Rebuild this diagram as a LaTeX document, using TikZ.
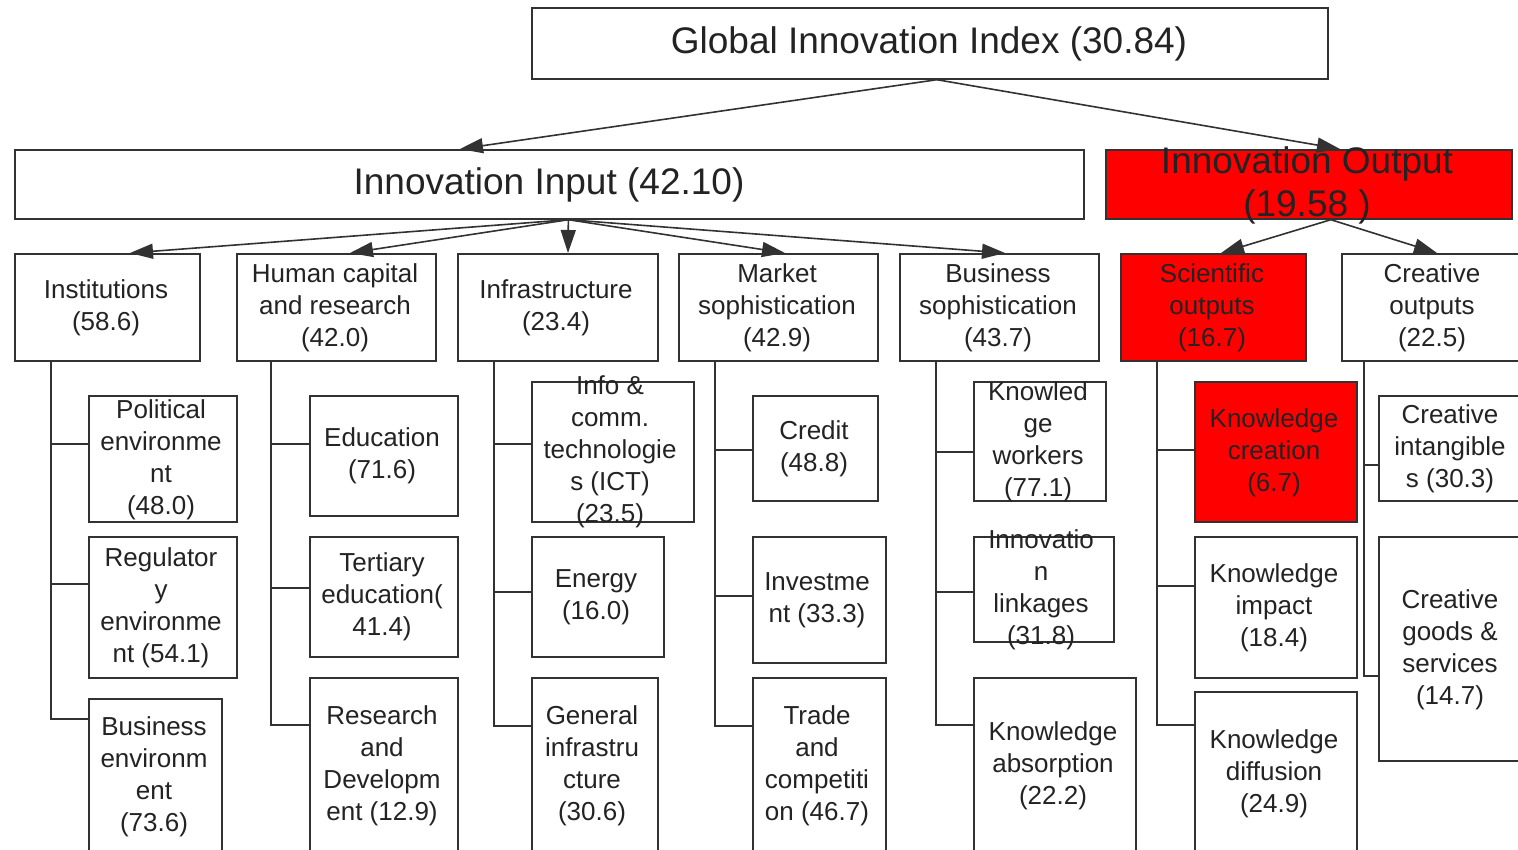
\documentclass[tikz,border=0pt]{standalone}
\usepackage{fontspec}
\setmainfont{Liberation Sans}
\usetikzlibrary{arrows.meta,calc}
\definecolor{edgecol}{RGB}{50,50,50}
\definecolor{txtcol}{RGB}{35,35,35}
\definecolor{hired}{RGB}{255,0,0}
\begin{document}
\begin{tikzpicture}[x=1pt,y=-1pt,
 box/.style={draw=edgecol,line width=1.7pt,inner sep=0pt,anchor=north west,fill=white},
 redbox/.style={box,fill=hired},
 big/.style={align=center,inner sep=0pt,yshift=-3pt,text=txtcol,font=\fontsize{37}{43}\selectfont},
 txt/.style={align=center,inner sep=0pt,yshift=-3pt,text=txtcol,font=\fontsize{26}{32}\selectfont},
 conn/.style={draw=edgecol,line width=1.6pt},
 arr/.style={conn,-{Triangle[length=23pt,width=15pt]}}]
\useasboundingbox (0,0) rectangle (1518,849);
\clip (0,0) rectangle (1518,849);
% level 0 and 1
\node[box,minimum width=796pt,minimum height=71pt] (gii) at (531,7) {};
\node[box,minimum width=1069pt,minimum height=69pt] (in) at (14,149) {};
\node[redbox,minimum width=406pt,minimum height=69pt] (out) at (1105,149) {};
% level 2
\node[box,minimum width=185pt,minimum height=107pt] (inst) at (14,253) {};
\node[box,minimum width=199pt,minimum height=107pt] (hum) at (236,253) {};
\node[box,minimum width=200pt,minimum height=107pt] (infra) at (457,253) {};
\node[box,minimum width=199pt,minimum height=107pt] (mkt) at (678,253) {};
\node[box,minimum width=199pt,minimum height=107pt] (bus) at (899,253) {};
\node[redbox,minimum width=185pt,minimum height=107pt] (sci) at (1120,253) {};
\node[box,minimum width=182pt,minimum height=107pt] (cre) at (1341,253) {};
% level 3
\node[box,minimum width=148pt,minimum height=126pt] (pol) at (88,395) {};
\node[box,minimum width=148pt,minimum height=141pt] (reg) at (88,536) {};
\node[box,minimum width=133pt,minimum height=154pt] (benv) at (88,698) {};
\node[box,minimum width=148pt,minimum height=120pt] (edu) at (309,395) {};
\node[box,minimum width=148pt,minimum height=120pt] (ter) at (309,536) {};
\node[box,minimum width=148pt,minimum height=175pt] (rd) at (309,677) {};
\node[box,minimum width=162pt,minimum height=140pt] (ict) at (531,381) {};
\node[box,minimum width=132pt,minimum height=120pt] (ene) at (531,536) {};
\node[box,minimum width=126pt,minimum height=175pt] (gen) at (531,677) {};
\node[box,minimum width=125pt,minimum height=105pt] (cred) at (752,395) {};
\node[box,minimum width=133pt,minimum height=126pt] (inv) at (752,536) {};
\node[box,minimum width=133pt,minimum height=175pt] (trd) at (752,677) {};
\node[box,minimum width=132pt,minimum height=119pt] (kw) at (973,381) {};
\node[box,minimum width=140pt,minimum height=105pt] (il) at (973,536) {};
\node[box,minimum width=162pt,minimum height=175pt] (ka) at (973,677) {};
\node[redbox,minimum width=162pt,minimum height=140pt] (kc) at (1194,381) {};
\node[box,minimum width=162pt,minimum height=141pt] (ki) at (1194,536) {};
\node[box,minimum width=162pt,minimum height=161pt] (kd) at (1194,691) {};
\node[box,minimum width=145pt,minimum height=105pt] (ci) at (1378,395) {};
\node[box,minimum width=145pt,minimum height=224pt] (cg) at (1378,536) {};
% arrows
\coordinate (giib) at ($(gii.south)+(7,0)$);
\draw[arr] (giib) -- ($(in.north west)+(446,0)$);
\draw[arr] (giib) -- ($(out.north west)+(235,0)$);
\coordinate (inb) at ($(in.south)+(19,0)$);
\draw[arr] (inb) -- ($(inst.north west)+(116,0)$);
\draw[arr] (inb) -- ($(hum.north west)+(114,0)$);
\draw[arr] (inb) -- ($(infra.north west)+(111,0)$);
\draw[arr] (inb) -- ($(mkt.north west)+(107,0)$);
\draw[arr] (inb) -- ($(bus.north west)+(106,0)$);
\coordinate (outb) at ($(out.south)+(22,0)$);
\draw[arr] (outb) -- ($(sci.north west)+(101,0)$);
\draw[arr] (outb) -- ($(cre.north west)+(96,0)$);
% trunks
\coordinate (tinst) at ($(inst.south west)+(37,0)$);
\draw[conn] (tinst) |- ($(pol.north west)+(0,49)$) (tinst) |- ($(reg.north west)+(0,48)$) (tinst) |- ($(benv.north west)+(0,21)$);
\coordinate (thum) at ($(hum.south west)+(35,0)$);
\draw[conn] (thum) |- ($(edu.north west)+(0,49)$) (thum) |- ($(ter.north west)+(0,52)$) (thum) |- ($(rd.north west)+(0,48)$);
\coordinate (tinfra) at ($(infra.south west)+(37,0)$);
\draw[conn] (tinfra) |- ($(ict.north west)+(0,63)$) (tinfra) |- ($(ene.north west)+(0,56)$) (tinfra) |- ($(gen.north west)+(0,49)$);
\coordinate (tmkt) at ($(mkt.south west)+(37,0)$);
\draw[conn] (tmkt) |- ($(cred.north west)+(0,55)$) (tmkt) |- ($(inv.north west)+(0,60)$) (tmkt) |- ($(trd.north west)+(0,49)$);
\coordinate (tbus) at ($(bus.south west)+(37,0)$);
\draw[conn] (tbus) |- ($(kw.north west)+(0,71)$) (tbus) |- ($(il.north west)+(0,56)$) (tbus) |- ($(ka.north west)+(0,48)$);
\coordinate (tsci) at ($(sci.south west)+(37,0)$);
\draw[conn] (tsci) |- ($(kc.north west)+(0,69)$) (tsci) |- ($(ki.north west)+(0,50)$) (tsci) |- ($(kd.north west)+(0,34)$);
\coordinate (tcre) at ($(cre.south west)+(23,0)$);
\draw[conn] (tcre) |- ($(ci.north west)+(0,70)$) (tcre) |- ($(cg.north west)+(0,140)$);
% texts
\node[big] (t-gii) at (929,41) {Global Innovation Index (30.84)};
\node[big] (t-in) at (549,182) {Innovation Input (42.10)};
\node[big] (t-out) at (1307,182) {Innovation Output\\(19.58 )};
\node[txt] (t-inst) at (106,305) {Institutions\\(58.6)};
\node[txt] (t-hum) at (335,305) {Human capital\\and research\\(42.0)};
\node[txt] (t-infra) at (556,305) {Infrastructure\\(23.4)};
\node[txt] (t-mkt) at (777,305) {Market\\sophistication\\(42.9)};
\node[txt] (t-bus) at (998,305) {Business\\sophistication\\(43.7)};
\node[txt] (t-sci) at (1212,305) {Scientific\\outputs\\(16.7)};
\node[txt] (t-cre) at (1432,305) {Creative\\outputs\\(22.5)};
\node[txt] (t-pol) at (161,457) {Political\\environme\\nt\\(48.0)};
\node[txt] (t-reg) at (161,605) {Regulator\\y\\environme\\nt (54.1)};
\node[txt] (t-benv) at (154,774) {Business\\environm\\ent\\(73.6)};
\node[txt] (t-edu) at (382,453) {Education\\(71.6)};
\node[txt] (t-ter) at (382,594) {Tertiary\\education(\\41.4)};
\node[txt] (t-rd) at (382,763) {Research\\and\\Developm\\ent (12.9)};
\node[txt] (t-ict) at (610,449) {Info \&\\comm.\\technologie\\s (ICT)\\(23.5)};
\node[txt] (t-ene) at (596,594) {Energy\\(16.0)};
\node[txt] (t-gen) at (592,763) {General\\infrastru\\cture\\(30.6)};
\node[txt] (t-cred) at (814,446) {Credit\\(48.8)};
\node[txt] (t-inv) at (817,597) {Investme\\nt (33.3)};
\node[txt] (t-trd) at (817,763) {Trade\\and\\competiti\\on (46.7)};
\node[txt] (t-kw) at (1038,439) {Knowled\\ge\\workers\\(77.1)};
\node[txt] (t-il) at (1041,587) {Innovatio\\n\\linkages\\(31.8)};
\node[txt] (t-ka) at (1053,763) {Knowledge\\absorption\\(22.2)};
\node[txt] (t-kc) at (1274,450) {Knowledge\\creation\\(6.7)};
\node[txt] (t-ki) at (1274,605) {Knowledge\\impact\\(18.4)};
\node[txt] (t-kd) at (1274,771) {Knowledge\\diffusion\\(24.9)};
\node[txt] (t-ci) at (1450,446) {Creative\\intangible\\s (30.3)};
\node[txt] (t-cg) at (1450,647) {Creative\\goods \&\\services\\(14.7)};
\end{tikzpicture}
\end{document}
